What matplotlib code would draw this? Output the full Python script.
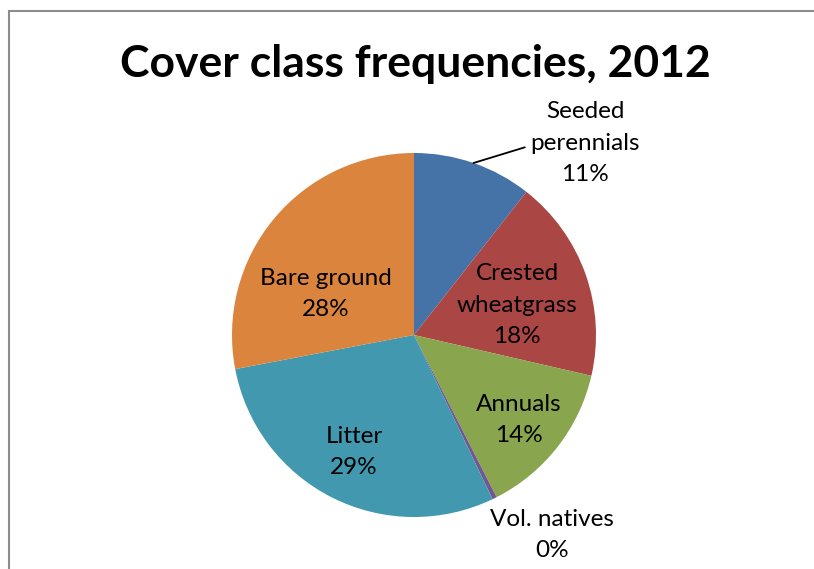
import numpy as np
import matplotlib.pyplot as plt

# data (percent of cover)
classes = ["Seeded\nperennials", "Crested\nwheatgrass", "Annuals", "Vol. natives", "Litter", "Bare ground"]
shares = [10.6, 18.0, 13.9, 0.4, 29.1, 28.0]
colors = ["#4572A7", "#AA4643", "#89A54E", "#71588F", "#4198AF", "#DB843D"]

# label centres in pixel space (x from left, y from top)
label_pos = [(585, 143), (517, 305), (519, 420), (552, 535), (354, 452), (326, 294)]

W, H = 814, 569
plt.rcParams['font.family'] = ['Lato', 'DejaVu Sans']

fig = plt.figure(figsize=(W / 100, H / 100), dpi=100, facecolor='white')
ax = fig.add_axes([0, 0, 1, 1])

cx, cy, r = 414, H - 335, 182
wedges, _ = ax.pie(shares, colors=colors, startangle=90, counterclock=False,
                   center=(cx, cy), radius=r, frame=False,
                   wedgeprops=dict(linewidth=0))
ax.set_xlim(0, W)
ax.set_ylim(0, H)
ax.set_aspect('equal')
ax.axis('off')

# chart border: top and left edges only, the rest runs off the image
ax.plot([W + 20, 9, 9], [H - 11, H - 11, -20], color="#8c8c8c", lw=1.5,
        clip_on=False, solid_joinstyle='miter')

for i, (name, v) in enumerate(zip(classes, shares)):
    x, y = label_pos[i]
    txt = f"{name}\n{round(v)}%"
    if i == 0:
        w = wedges[i]
        ang = np.deg2rad(w.theta1 + (w.theta2 - w.theta1) * 0.5)
        ax.annotate(txt, xy=(cx + r * np.cos(ang), cy + r * np.sin(ang)),
                    xytext=(x, H - y), ha='center', va='center', fontsize=17.5,
                    linespacing=1.6,
                    arrowprops=dict(arrowstyle='-', color='black', lw=1.3,
                                    shrinkA=2, shrinkB=0,
                                    relpos=(0.0, 0.5),
                                    connectionstyle="angle,angleA=0,angleB=17,rad=0"))
    else:
        ax.text(x, H - y, txt, ha='center', va='center', fontsize=17.5,
                linespacing=1.6)

ax.text(W / 2 + 8, H - 64, "Cover class frequencies, 2012", ha='center', va='center',
        fontsize=32, fontweight='bold')

fig.savefig("out.png", dpi=100, facecolor='white')
